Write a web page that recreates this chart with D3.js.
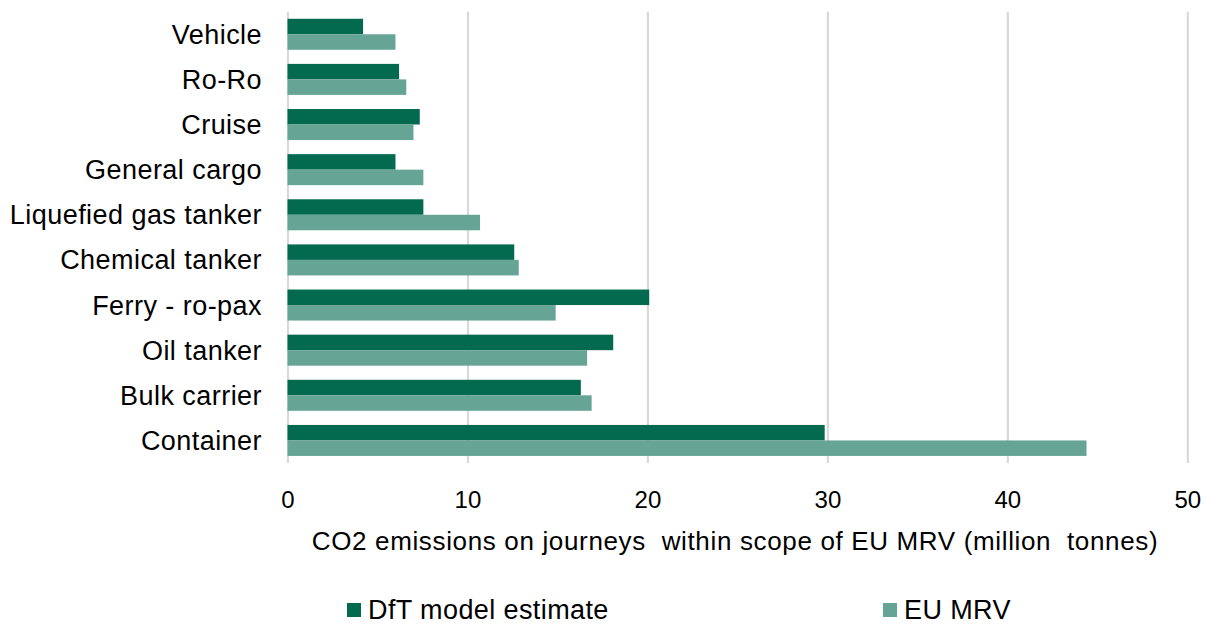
<!DOCTYPE html>
<html>
<head>
<meta charset="utf-8">
<script src="https://cdn.jsdelivr.net/npm/d3@7"></script>
<style>
  html, body { margin: 0; padding: 0; background: #fff; }
  svg { display: block; font-family: Arial, "Liberation Sans", sans-serif; }
</style>
</head>
<body>
<svg id="chart" width="1207" height="624"></svg>
<script>
const categories = ["Vehicle", "Ro-Ro", "Cruise", "General cargo", "Liquefied gas tanker",
  "Chemical tanker", "Ferry - ro-pax", "Oil tanker", "Bulk carrier", "Container"];
const seriesNames = ["DfT model estimate", "EU MRV"];
const dftValues = [4.2, 6.2, 7.35, 6.0, 7.55, 12.6, 20.1, 18.1, 16.3, 29.85];
const euValues  = [6.0, 6.6, 7.0, 7.55, 10.7, 12.85, 14.9, 16.65, 16.9, 44.4];
const xTicks = [0, 10, 20, 30, 40, 50];
const xTitle = "CO2 emissions on journeys\u00a0 within scope of EU MRV (million\u00a0 tonnes)";
const colors = ["#03694F", "#66A596"];

const svg = d3.select("#chart");
const plotLeft = 287.5, plotRight = 1187.3, plotTop = 11.7, plotBottom = 463;

const x = d3.scaleLinear().domain([0, 50]).range([plotLeft, plotRight]);
const y = d3.scaleBand().domain(categories).range([plotTop, plotBottom])
  .paddingInner(0.313).paddingOuter(0.1565);
const ySub = d3.scaleBand().domain(seriesNames).range([0, y.bandwidth()]);

// gridlines + tick labels
const axis = d3.axisBottom(x).tickValues(xTicks).tickSize(-(plotBottom - plotTop)).tickPadding(0);
const gAxis = svg.append("g").attr("transform", `translate(0,${plotBottom})`).call(axis);
gAxis.select(".domain").remove();
gAxis.selectAll(".tick line").attr("stroke", "#d9d9d9").attr("stroke-width", 2.2);
gAxis.selectAll(".tick text")
  .attr("fill", "#000").attr("font-size", 24).attr("dy", null).attr("y", 45)
  .attr("font-family", "Arial, 'Liberation Sans', sans-serif");

// bars
const data = categories.map((c, i) => ({ c, vals: [dftValues[i], euValues[i]] }));
const groups = svg.append("g").selectAll("g").data(data).join("g")
  .attr("transform", d => `translate(0,${y(d.c)})`);
groups.selectAll("rect").data(d => d.vals.map((v, j) => ({ v, s: seriesNames[j], j })))
  .join("rect")
  .attr("x", x(0))
  .attr("y", d => ySub(d.s))
  .attr("width", d => x(d.v) - x(0))
  .attr("height", ySub.bandwidth())
  .attr("fill", d => colors[d.j]);

// category labels
svg.append("g").selectAll("text").data(categories).join("text")
  .attr("x", 262).attr("y", d => y(d) + y.bandwidth() / 2 + 9.5)
  .attr("text-anchor", "end").attr("font-size", 27).attr("letter-spacing", 0.45)
  .attr("fill", "#000").text(d => d);

// axis title
svg.append("text").attr("x", 735).attr("y", 550).attr("text-anchor", "middle")
  .attr("font-size", 26).attr("letter-spacing", 0.65).attr("fill", "#000").text(xTitle);

// legend
const legendX = [347, 883];
const leg = svg.append("g").selectAll("g").data(seriesNames).join("g")
  .attr("transform", (d, i) => `translate(${legendX[i]},0)`);
leg.append("rect").attr("x", 0).attr("y", 603).attr("width", 14).attr("height", 14)
  .attr("fill", (d, i) => colors[i]);
leg.append("text").attr("x", 21).attr("y", 619).attr("font-size", 27).attr("letter-spacing", 0.4)
  .attr("fill", "#000").text(d => d);
</script>
</body>
</html>
